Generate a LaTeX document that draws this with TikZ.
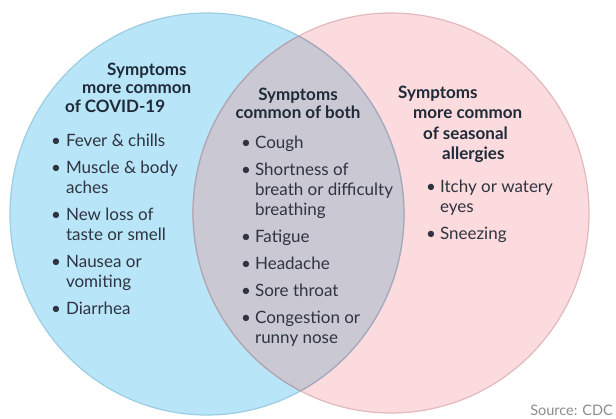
\documentclass[tikz,border=0pt]{standalone}
\usepackage{fontspec}
\setmainfont{Lato}
\definecolor{covidblue}{HTML}{B9E5F8}
\definecolor{allergypink}{HTML}{FBDBDD}
\definecolor{bothgray}{HTML}{CAC8D3}
\definecolor{blueedge}{HTML}{9DCDE3}
\definecolor{pinkedge}{HTML}{E2B9BD}
\definecolor{grayedge}{HTML}{A9A6B6}
\definecolor{headink}{HTML}{1F2A38}
\definecolor{bodyink}{HTML}{2E3440}
\definecolor{srcink}{HTML}{8C8C8C}
\newcommand\vbul{\textbullet}
\tikzset{
  headtext/.style={inner sep=0pt, anchor=base west, text=headink, font=\fontsize{17}{19}\selectfont\bfseries},
  listtext/.style={inner sep=0pt, anchor=base west, text=bodyink, font=\fontsize{17}{20}\selectfont},
}
\begin{document}
\begin{tikzpicture}[x=1pt,y=-1pt]
\useasboundingbox (0,0) rectangle (616,418);
\fill[white] (0,0) rectangle (616,418);
% circles
\fill[covidblue] (207,214) ellipse [x radius=197pt, y radius=201pt];
\fill[allergypink] (391,213) ellipse [x radius=198pt, y radius=200pt];
\begin{scope}
  \clip (207,214) ellipse [x radius=197pt, y radius=201pt];
  \fill[bothgray] (391,213) ellipse [x radius=198pt, y radius=200pt];
\end{scope}
\draw[blueedge, line width=1.2pt] (207,214) ellipse [x radius=197pt, y radius=201pt];
\draw[pinkedge, line width=1.2pt] (391,213) ellipse [x radius=198pt, y radius=200pt];
\begin{scope}
  \clip (207,214) ellipse [x radius=197pt, y radius=201pt];
  \draw[grayedge, line width=1.2pt] (391,213) ellipse [x radius=198pt, y radius=200pt];
\end{scope}
\begin{scope}
  \clip (391,213) ellipse [x radius=198pt, y radius=200pt];
  \draw[grayedge, line width=1.2pt] (207,214) ellipse [x radius=197pt, y radius=201pt];
\end{scope}
% left heading
\node[headtext] (covidh1) at (107,75) {Symptoms};
\node[headtext] (covidh2) at (82,93) {more common};
\node[headtext] (covidh3) at (65,112) {of COVID-19};
% left list
\node[listtext] (covidlist) at (51,146) {\begin{tabular}[t]{@{}l@{\hspace{5pt}}l@{}}
\vbul & Fever \& chills\\[7pt]
\vbul & Muscle \& body\\
 & aches\\[7pt]
\vbul & New loss of\\
 & taste or smell\\[7pt]
\vbul & Nausea or\\
 & vomiting\\[7pt]
\vbul & Diarrhea
\end{tabular}};
% middle heading
\node[headtext, anchor=base] (bothh1) at (298,100) {Symptoms};
\node[headtext, anchor=base] (bothh2) at (298,118) {common of both};
% middle list
\node[listtext] (bothlist) at (241,148) {\begin{tabular}[t]{@{}l@{\hspace{4pt}}l@{}}
\vbul & Cough\\[7pt]
\vbul & Shortness of\\
 & breath or difficulty\\
 & breathing\\[7pt]
\vbul & Fatigue\\[7pt]
\vbul & Headache\\[7pt]
\vbul & Sore throat\\[7pt]
\vbul & Congestion or\\
 & runny nose
\end{tabular}};
% right heading
\node[headtext] (allh1) at (398,98) {Symptoms};
\node[headtext] (allh2) at (413,118) {more common};
\node[headtext] (allh3) at (423,139) {of seasonal};
\node[headtext] (allh4) at (442,159) {allergies};
% right list
\node[listtext] (alllist) at (426,192) {\begin{tabular}[t]{@{}l@{\hspace{4pt}}l@{}}
\vbul & Itchy or watery\\
 & eyes\\[7pt]
\vbul & Sneezing
\end{tabular}};
% source
\node[inner sep=0pt, anchor=base east, text=srcink, font=\fontsize{14.5}{16}\selectfont] (source) at (613,415) {Source: CDC};
\end{tikzpicture}
\end{document}
